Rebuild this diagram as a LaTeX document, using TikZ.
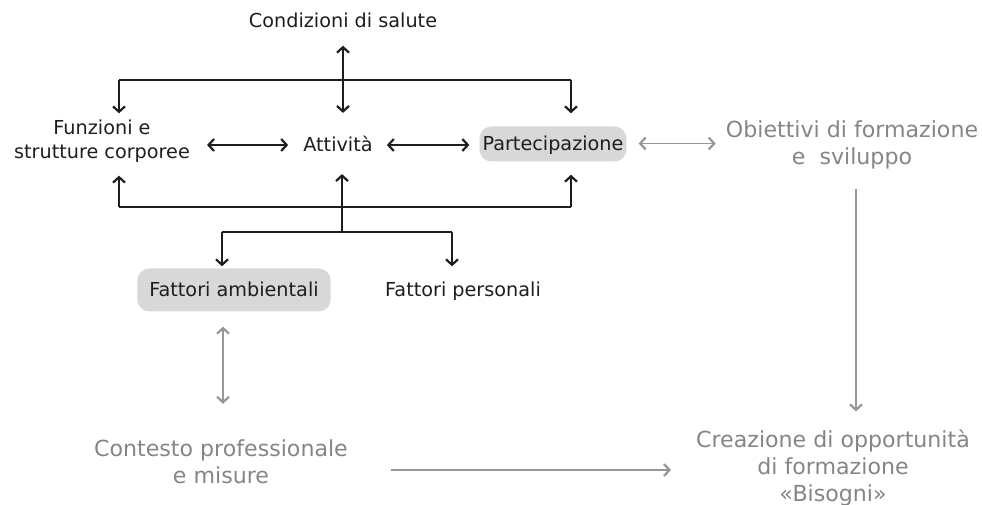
\documentclass[tikz,border=0pt]{standalone}
\usepackage{fontspec}
\setmainfont{DejaVu Sans}
\usepackage{xcolor}
\usepackage{tikz}
\usetikzlibrary{arrows.meta}

\definecolor{termgray}{HTML}{1E1E1E}
\definecolor{ghostgray}{HTML}{858585}
\definecolor{fadegray}{HTML}{969696}
\definecolor{markgray}{HTML}{D8D8D8}

\begin{document}
\begin{tikzpicture}[x=1bp, y=-1bp,
			>={Straight Barb[length=5.5bp, width=12bp, line width=2.2bp]},
			term/.style={font=\fontsize{19.3}{24}\selectfont, text=termgray, inner sep=0pt, text depth=0.24em, align=center},
			ghost/.style={font=\fontsize{22.2}{27}\selectfont, text=ghostgray, inner sep=0pt, text depth=0.24em, align=center},
			highlight/.style={fill=markgray, rounded corners=12bp},
			edge/.style={line width=1.5bp, draw=termgray},
			faint/.style={line width=1.6bp, draw=fadegray}
		]
		\useasboundingbox (0,0) rectangle (982,505);
		\node[term] (cond) at (343,21)  {Condizioni di salute};
		\node[term] (att)  at (338,145) {Attività};
		\node[term] (fun)  at (102,140) {Funzioni e\\strutture corporee};
		\node[term, highlight, inner xsep=3bp, inner ysep=9bp] (par) at (553,144) {Partecipazione};
		\node[term, highlight, inner xsep=12bp, inner ysep=13bp] (fam) at (234,290) {Fattori ambientali};
		\node[term] (fper) at (463,290) {Fattori personali};
		\node[ghost] (obi) at (852,143.5) {Obiettivi di formazione\\e\ \ sviluppo};
		\node[ghost] (con) at (221,463)   {Contesto professionale\\e misure};
		\node[ghost] (cre) at (833,466.5) {Creazione di opportunità\\di formazione\\«Bisogni»};

		\coordinate (tl) at (119,80);
		\coordinate (tr) at (571,80);
		\coordinate (bl) at (119,207);
		\coordinate (br) at (571,207);
		\coordinate (mid) at (342,232);
		\coordinate (ml) at (222,232);
		\coordinate (mr) at (452,232);

		\draw[edge, <->, shorten <=16bp, shorten >=23bp] (cond.south) -- (cond.south |- att.north);
		\draw[edge] (tl) -- (tr);
		\draw[edge, ->, shorten >=6bp] (tl) -- (tl |- fun.north);
		\draw[edge, ->, shorten >=13bp] (tr) -- (tr |- par.north);
		\draw[edge, <->, shorten <=17bp, shorten >=15bp] (fun.east |- att) -- (att.west);
		\draw[edge, <->, shorten <=14bp, shorten >=10bp] (att.east) -- (par.west |- att);
		\draw[edge] (bl) -- (br);
		\draw[edge, ->, shorten >=15bp] (bl) -- (bl |- fun.south);
		\draw[edge, ->, shorten >=13bp] (br) -- (br |- par.south);
		\draw[edge, ->, shorten >=20bp] (mid) -- (mid |- att.south);
		\draw[edge] (ml) -- (mr);
		\draw[edge, ->, shorten >=2bp] (ml) -- (ml |- fam.north);
		\draw[edge, ->, shorten >=15bp] (mr) -- (mr |- fper.north);

		\draw[faint, <->, shorten <=12bp, shorten >=10bp] (par.east |- obi) -- (obi.west);
		\draw[faint, ->, shorten <=22bp, shorten >=18bp] ([xshift=4bp]obi.south) -- ([xshift=4bp]obi.south |- cre.north);
		\draw[faint, <->, shorten <=15bp, shorten >=36bp] ([xshift=-11bp]fam.south) -- ([xshift=-11bp]fam.south |- con.north);
		\draw[faint, ->, shorten <=43bp, shorten >=25bp] ([yshift=-7bp]con.east) -- ([yshift=-7bp]con.east -| cre.west);
\end{tikzpicture}
\end{document}
